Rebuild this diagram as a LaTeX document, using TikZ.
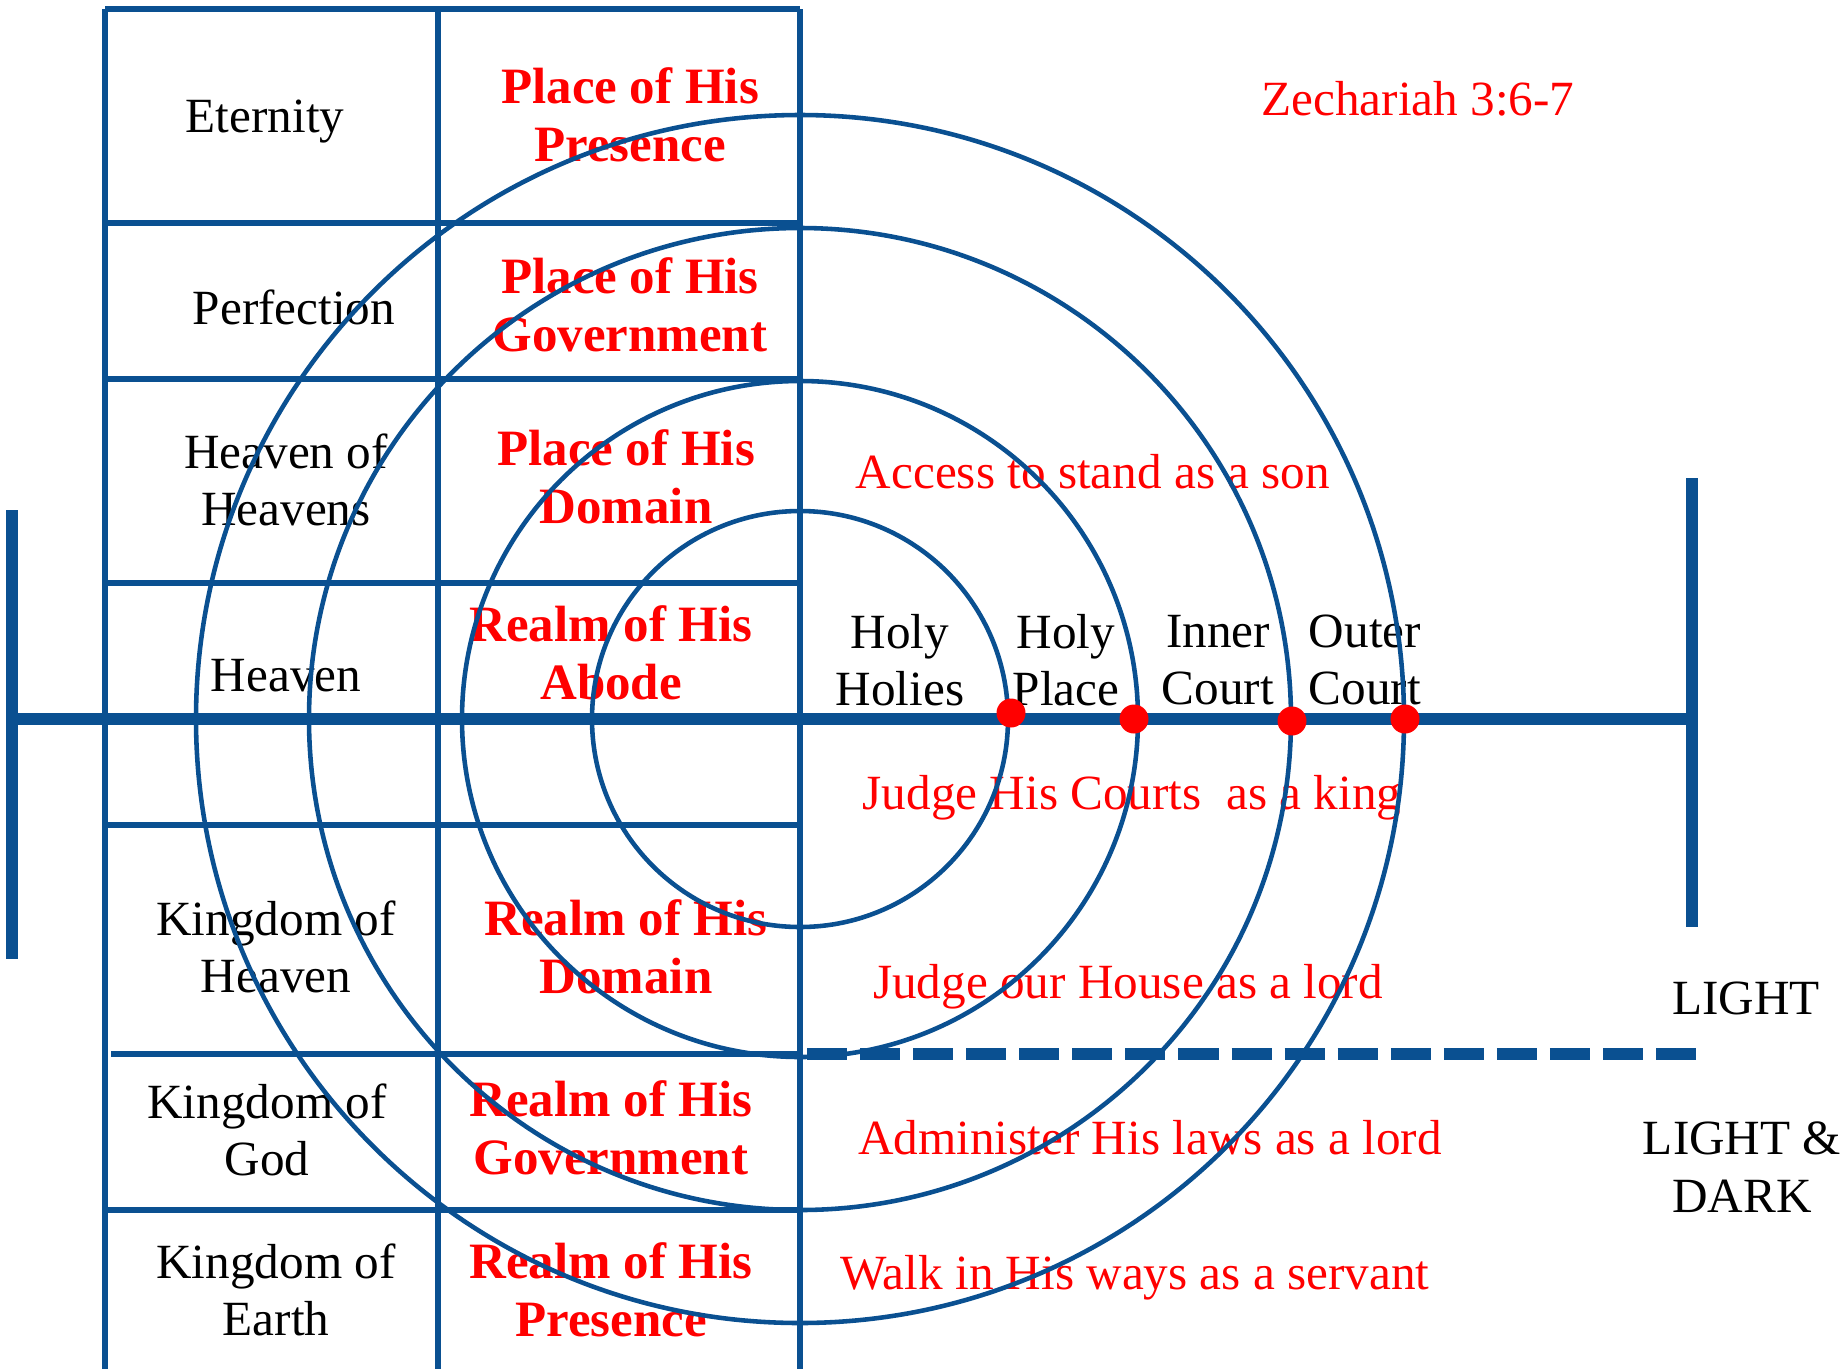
\documentclass[tikz,border=0pt]{standalone}
\usepackage{fontspec}
\setmainfont{Liberation Serif}
\usepackage{xcolor}
\usepackage{tikz}

\definecolor{chartblue}{RGB}{10,80,145}
\definecolor{chartred}{RGB}{255,0,0}

\begin{document}
\begin{tikzpicture}[x=0.1mm,y=-0.1mm,
		word/.style={align=center,inner sep=0pt,font=\fontsize{14}{16.4}\selectfont},
		place/.style={word,text=chartred,font=\fontsize{14.5}{16.4}\selectfont\bfseries},
		note/.style={word,text=chartred},
		grid/.style={chartblue,line width=1.7pt},
		ring/.style={chartblue,line width=1.3pt},
		bar/.style={chartblue,line width=3.6pt},
		seal/.style={circle,fill=chartred,inner sep=0pt,minimum size=2.9mm}]
		\useasboundingbox (0,0) rectangle (1842,1369);
		
		% table
		\draw[grid] (105,9) -- (800,9);
		\foreach \x in {105,438,800}{
			\draw[grid] (\x,9) -- (\x,1369);
		}
		\foreach \y in {223,379,583,825,1210}{
			\draw[grid] (105,\y) -- (800,\y);
		}
		\draw[grid] (111,1054) -- (800,1054);
		
		% left column
		\node[word] (eternity) at (265,122) {Eternity};
		\node[word] (perfection) at (294,307) {Perfection};
		\node[word] (heavens) at (286,480) {Heaven of\\Heavens};
		\node[word] (heaven) at (286,676) {Heaven};
		\node[word] (kheaven) at (276,947) {Kingdom of\\Heaven};
		\node[word] (kgod) at (267,1130) {Kingdom of\\God};
		\node[word] (kearth) at (276,1290) {Kingdom of\\Earth};
		
		% right column
		\node[place] (presence) at (630,115) {Place of His\\Presence};
		\node[place] (government) at (630,305) {Place of His\\Government};
		\node[place] (domain) at (626,477) {Place of His\\Domain};
		\node[place] (abode) at (611,653) {Realm of His\\Abode};
		\node[place] (rdomain) at (626,947) {Realm of His\\Domain};
		\node[place] (rgovernment) at (611,1128) {Realm of His\\Government};
		\node[place] (rpresence) at (611,1290) {Realm of His\\Presence};
		
		% courts
		\node[word] (holies) at (900,660) {Holy\\Holies};
		\node[word] (holyplace) at (1066,660) {Holy\\Place};
		\node[word] (inner) at (1218,660) {Inner\\Court};
		\node[word] (outer) at (1365,660) {Outer\\Court};
		
		% red notes
		\node[note] (zech) at (1418,99) {Zechariah 3:6-7};
		\node[note] (son) at (1093,472) {Access to stand as a son};
		\node[note] (king) at (1132,798) {Judge His Courts~ as a king};
		\node[note] (house) at (1128,987) {Judge our House as a lord};
		\node[note] (laws) at (1150,1138) {Administer His laws as a lord};
		\node[note] (servant) at (1135,1278) {Walk in His ways as a servant};
		
		\node[word] (light) at (1746,998) {LIGHT};
		\node[word] (lightdark) at (1742,1167) {LIGHT \&\\DARK};
		
		% rings
		\coordinate (centre) at (800,719);
		\foreach \r in {208,338,491,604}{
			\draw[ring] (centre) circle[radius=\r*0.1mm];
		}
		
		% axis and bars
		\coordinate (axisL) at (12,719);
		\coordinate (axisR) at (1692,719);
		\coordinate (barLtop) at (12,510);
		\coordinate (barLbot) at (12,959);
		\coordinate (barRtop) at (1692,478);
		\coordinate (barRbot) at (1692,927);
		\draw[bar] (axisL) -- (axisR);
		\draw[bar] (barLtop) -- (barLbot);
		\draw[bar] (barRtop) -- (barRbot);
		
		\coordinate (dashL) at (807,1054);
		\coordinate (dashR) at (1699,1054);
		\draw[bar,dash pattern=on 11.4pt off 3.7pt] (dashL) -- (dashR);
		
		\foreach \x/\y [count=\i] in {1011/713,1134/719,1292/721,1405/719}{
			\node[seal] (dot\i) at (\x,\y) {};
		}
	\end{tikzpicture}
\end{document}
